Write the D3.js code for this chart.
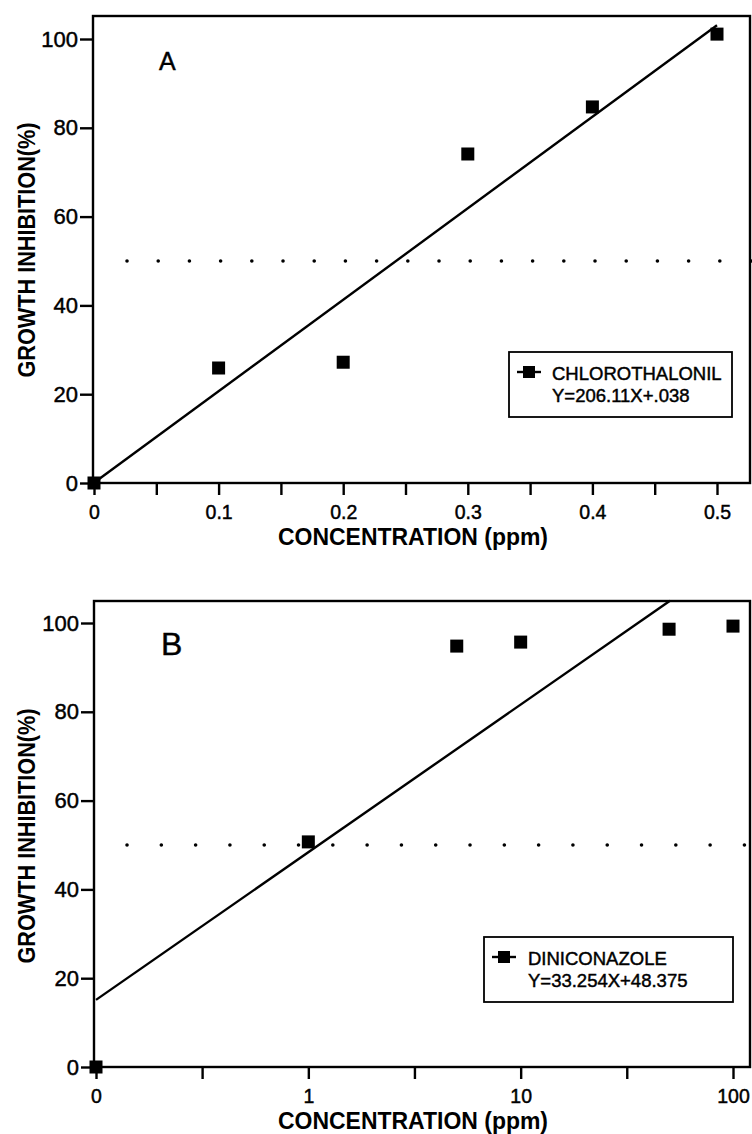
<!DOCTYPE html>
<html>
<head>
<meta charset="utf-8">
<script src="https://cdnjs.cloudflare.com/ajax/libs/d3/7.8.5/d3.min.js"></script>
<style>
body{margin:0;background:#fff;}
svg{display:block;}
text{font-family:"Liberation Sans",Arial,Helvetica,sans-serif;fill:#000;}
.heavy{stroke:#000;stroke-width:0.45px;}
</style>
</head>
<body>
<div id="container"></div>
<script>
// panel A - chlorothalonil, linear concentration axis
var concA = [0, 0.1, 0.2, 0.3, 0.4, 0.5];
var inhibA = [0, 25.9, 27.2, 74.1, 84.7, 101.1];
var fitA = [206.11, 0.038];
var xTicksA = [0, 0.05, 0.1, 0.15, 0.2, 0.25, 0.3, 0.35, 0.4, 0.45, 0.5];
var xLabelValsA = [0, 0.1, 0.2, 0.3, 0.4, 0.5];
var xLabelsA = ['0', '0.1', '0.2', '0.3', '0.4', '0.5'];

// panel B - diniconazole, log concentration axis (0 ppm sits on the axis origin)
var concB = [0.1, 1, 5, 10, 50, 100];
var inhibB = [0, 50.7, 94.8, 95.7, 98.6, 99.3];
var fitB = [33.254, 48.375];
var xTicksB = [0.1, 0.316, 1, 3.16, 10, 31.6, 100];
var xLabelValsB = [0.1, 1, 10, 100];
var xLabelsB = ['0', '1', '10', '100'];

var yTicks = [0, 20, 40, 60, 80, 100];
var threshold = 50;

var W = 752, H = 1134;
var svg = d3.select('#container').append('svg')
    .attr('width', W).attr('height', H);

function drawPanel(p){
    var g = svg.append('g');
    var x = p.log ? d3.scaleLog().domain(p.xDomain).range(p.xRange)
                  : d3.scaleLinear().domain(p.xDomain).range(p.xRange);
    var y = d3.scaleLinear().domain([0, 100]).range([p.bottom, p.y100]);

    // y axis ticks
    var ya = g.append('g').attr('transform', 'translate(' + p.left + ',0)')
        .call(d3.axisLeft(y).tickValues(yTicks).tickSize(13).tickPadding(2).tickFormat(d3.format('d')));
    ya.select('.domain').remove();
    ya.selectAll('line').attr('stroke', '#000').attr('stroke-width', 2.4);
    ya.selectAll('text').attr('font-size', 22).attr('class', 'heavy')
        .attr('font-family', '"Liberation Sans",Arial,sans-serif');

    // x axis ticks
    var xa = g.append('g').attr('transform', 'translate(0,' + p.bottom + ')')
        .call(d3.axisBottom(x).tickValues(p.xTicks).tickSize(12).tickPadding(10)
            .tickFormat(function(d){
                var k = p.labelVals.indexOf(d);
                return k < 0 ? '' : p.labels[k];
            }));
    xa.select('.domain').remove();
    xa.selectAll('line').attr('stroke', '#000').attr('stroke-width', 2.4);
    xa.selectAll('text').attr('font-size', 19.5).attr('class', 'heavy')
        .attr('font-family', '"Liberation Sans",Arial,sans-serif');

    // frame
    g.append('rect')
        .attr('x', p.left).attr('y', p.top)
        .attr('width', p.right - p.left).attr('height', p.bottom - p.top)
        .attr('fill', 'none').attr('stroke', '#000').attr('stroke-width', 2.4);

    // 50% dotted line
    g.append('line')
        .attr('x1', x(p.dotFrom)).attr('x2', x(p.dotTo))
        .attr('y1', y(threshold)).attr('y2', y(threshold))
        .attr('stroke', '#000').attr('stroke-width', 3.6)
        .attr('stroke-linecap', 'round')
        .attr('stroke-dasharray', '0 ' + p.dotGap);

    // regression line
    var fitPts = p.fitRange.map(function(v){
        var X = p.log ? Math.log10(v) : v;
        return [x(v), y(p.fit[0] * X + p.fit[1])];
    });
    g.append('path')
        .attr('d', d3.line()(fitPts))
        .attr('fill', 'none').attr('stroke', '#000').attr('stroke-width', 2.4);

    // data points
    var s = 13;
    g.selectAll('.pt').data(p.conc).enter().append('rect')
        .attr('class', 'pt')
        .attr('x', function(d){ return x(d) - s/2; })
        .attr('y', function(d, i){ return y(p.inhib[i]) - s/2; })
        .attr('width', s).attr('height', s)
        .attr('fill', '#000');

    // panel letter
    g.append('text').attr('x', p.letterX).attr('y', p.letterY)
        .attr('class', 'heavy')
        .attr('font-size', p.letterSize).text(p.letter);

    // axis titles
    g.append('text')
        .attr('transform', 'translate(35,' + p.yTitleC + ') rotate(-90)')
        .attr('text-anchor', 'middle').attr('font-weight', 'bold').attr('font-size', 24)
        .attr('textLength', 255).attr('lengthAdjust', 'spacingAndGlyphs')
        .text('GROWTH INHIBITION(%)');
    g.append('text')
        .attr('x', 413).attr('y', p.bottom + 62)
        .attr('text-anchor', 'middle').attr('font-weight', 'bold').attr('font-size', 24)
        .attr('textLength', 270).attr('lengthAdjust', 'spacingAndGlyphs')
        .text('CONCENTRATION (ppm)');

    // legend
    var L = p.legend;
    g.append('rect').attr('x', L.x).attr('y', L.y).attr('width', L.w).attr('height', L.h)
        .attr('fill', '#fff').attr('stroke', '#000').attr('stroke-width', 1.8);
    g.append('line').attr('x1', L.x + 8).attr('x2', L.x + 32)
        .attr('y1', L.y + 20).attr('y2', L.y + 20)
        .attr('stroke', '#000').attr('stroke-width', 2.4);
    g.append('rect').attr('x', L.x + 14).attr('y', L.y + 14).attr('width', 12).attr('height', 12)
        .attr('fill', '#000');
    g.append('text').attr('x', L.x + L.tx).attr('y', L.y + 28)
        .attr('class', 'heavy').attr('font-size', 18.5).text(L.name);
    g.append('text').attr('x', L.x + L.tx).attr('y', L.y + 50)
        .attr('class', 'heavy').attr('font-size', 18.5).text(L.eq);
}

drawPanel({
    log: false,
    xDomain: [0, 0.5], xRange: [94, 717],
    top: 16, bottom: 483, y100: 39, left: 93, right: 750,
    xTicks: xTicksA, labelVals: xLabelValsA, labels: xLabelsA,
    conc: concA, inhib: inhibA, fit: fitA, fitRange: [0, 0.5],
    dotFrom: 0.0265, dotTo: 0.53, dotGap: 31.2,
    letter: 'A', letterX: 159, letterY: 70, letterSize: 25,
    yTitleC: 250,
    legend: {x: 509, y: 352, w: 223, h: 65, tx: 43, name: 'CHLOROTHALONIL', eq: 'Y=206.11X+.038'}
});

drawPanel({
    log: true,
    xDomain: [0.1, 100], xRange: [96, 733],
    top: 601, bottom: 1067, y100: 623, left: 94, right: 750,
    xTicks: xTicksB, labelVals: xLabelValsB, labels: xLabelsB,
    conc: concB, inhib: inhibB, fit: fitB, fitRange: [0.1, 50.5],
    dotFrom: 0.14, dotTo: 120, dotGap: 34.3,
    letter: 'B', letterX: 161, letterY: 655, letterSize: 32,
    yTitleC: 836,
    legend: {x: 484, y: 937, w: 249, h: 65, tx: 44, name: 'DINICONAZOLE', eq: 'Y=33.254X+48.375'}
});
</script>
</body>
</html>
